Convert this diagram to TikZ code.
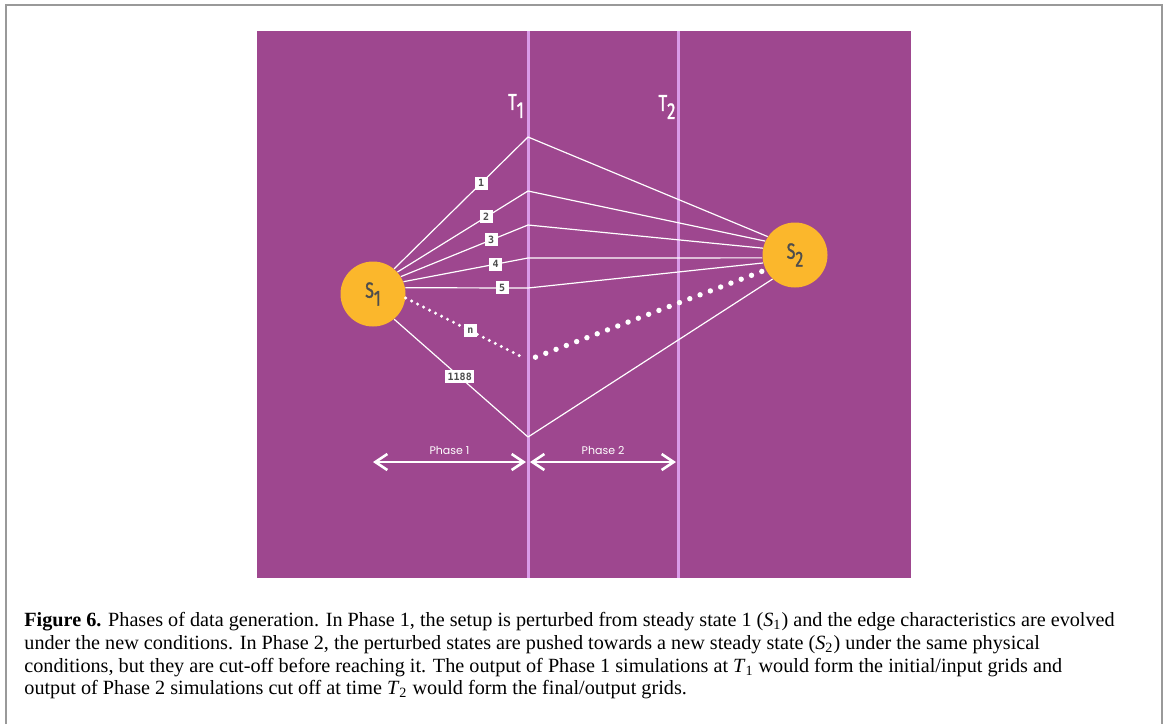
\documentclass[tikz,border=0pt]{standalone}
\usepackage{fontspec}
\setmainfont{Liberation Serif}
\newfontfamily\statefont{Fira Sans}[FakeStretch=0.72, FakeBold=1.2]
\newfontfamily\phasefont{Poppins}
\newfontfamily\boxfont{DejaVu Sans Mono}
\usetikzlibrary{arrows.meta}

\definecolor{bgpurple}{RGB}{158,71,143}
\definecolor{timeline}{RGB}{217,155,232}
\definecolor{stateorange}{RGB}{251,183,44}
\definecolor{statetext}{RGB}{77,77,77}
\definecolor{framegray}{RGB}{153,153,153}

\newcommand{\lowsub}[1]{\raisebox{-4pt}{#1}}

\tikzset{
    state/.style={circle, fill=stateorange, minimum size=32.5pt, inner sep=0pt,
        text=statetext, font=\statefont\fontsize{11}{11}\selectfont},
    tlabel/.style={inner sep=0pt, text=white, font=\statefont\fontsize{11.5}{11.5}\selectfont},
    run/.style={white, line width=0.6pt},
    runlabel/.style={fill=white, inner sep=1.2pt, minimum size=6.5pt,
        text=statetext, font=\boxfont\bfseries\fontsize{5}{5}\selectfont},
    smalldots/.style={white, line width=1.7pt, line cap=round, dash pattern=on 0pt off 3.35pt},
    bigdots/.style={white, line width=2.7pt, line cap=round, dash pattern=on 0pt off 5.5pt},
    phase/.style={white, line width=1.3pt,
        {Straight Barb[length=6pt, width=8pt]}-{Straight Barb[length=6pt, width=8pt]}},
    phaselabel/.style={inner sep=0pt, text=white, font=\phasefont\fontsize{5.5}{5.5}\selectfont},
    caption/.style={inner sep=0pt, align=left, font=\fontsize{10.1}{11.35}\selectfont}
}

\begin{document}
\begin{tikzpicture}[x=0.5pt, y=-0.5pt]
        \useasboundingbox (0, 0) rectangle (1170, 724);

        \coordinate (T1top) at (528, 31);
        \coordinate (T1bot) at (528, 578);
        \coordinate (T2top) at (678, 31);
        \coordinate (T2bot) at (678, 578);

        \coordinate (a1) at (528, 137);
        \coordinate (a2) at (528, 191);
        \coordinate (a3) at (528, 225);
        \coordinate (a4) at (528, 258);
        \coordinate (a5) at (528, 288);
        \coordinate (an) at (528, 360);
        \coordinate (am) at (528, 437);

        \coordinate (p1l) at (373, 462);
        \coordinate (p1r) at (526, 462);
        \coordinate (p2l) at (530, 462);
        \coordinate (p2r) at (676, 462);

        \draw[framegray, line width=1pt] (6, 724) -- (6, 5) -- (1162, 5) -- (1162, 724);
        \fill[bgpurple] (257, 31) rectangle (911, 578);

        \draw[timeline, line width=1.5pt] (T1top) -- (T1bot);
        \draw[timeline, line width=1.5pt] (T2top) -- (T2bot);

        \node[tlabel] (t1) at (516, 106) {T\lowsub{1}};
        \node[tlabel] (t2) at (667, 107) {T\lowsub{2}};

        \node[state] (S1) at (373, 294) {S\lowsub{1}};
        \node[state] (S2) at (795, 255) {S\lowsub{2}};

        % phase 1: from S1 up to T1
        \draw[run] (S1.50) -- (a1) node[runlabel, pos=0.65] (r1) {1};
        \draw[run] (S1.42) -- (a2) node[runlabel, pos=0.68] (r2) {2};
        \draw[run] (S1.32) -- (a3) node[runlabel, pos=0.71] (r3) {3};
        \draw[run] (S1.22) -- (a4) node[runlabel, pos=0.74] (r4) {4};
        \draw[run] (S1.11) -- (a5) node[runlabel, pos=0.79] (r5) {5};
        \draw[smalldots, shorten >=3pt] (S1.-7) -- (an) node[runlabel, pos=0.53] (rn) {n};
        \draw[run] (S1.-50) -- (am) node[runlabel, pos=0.49] (rm) {1188};

        % phase 2: from T1 towards S2
        \draw[run] (a1) -- (S2.146);
        \draw[run] (a2) -- (S2.155);
        \draw[run] (a3) -- (S2.168);
        \draw[run] (a4) -- (S2.185);
        \draw[run] (a5) -- (S2.194);
        \draw[bigdots, shorten <=4pt] (an) -- (S2.207);
        \draw[run] (am) -- (S2.227);

        \draw[phase] (p1l) -- (p1r) node[phaselabel, midway, yshift=6pt] (ph1) {Phase 1};
        \draw[phase] (p2l) -- (p2r) node[phaselabel, midway, yshift=6pt] (ph2) {Phase 2};

        \node[caption, anchor=north west] (cap) at (24, 612) {%
            \textbf{Figure 6.} Phases of data generation. In Phase 1, the setup is perturbed from steady state 1 (\textit{S}\textsubscript{1}) and the edge characteristics are evolved\\
            under the new conditions. In Phase 2, the perturbed states are pushed towards a new steady state (\textit{S}\textsubscript{2}) under the same physical\\
            conditions, but they are cut-off before reaching it. The output of Phase 1 simulations at \textit{T}\textsubscript{1} would form the initial/input grids and\\
            output of Phase 2 simulations cut off at time \textit{T}\textsubscript{2} would form the final/output grids.};
    \end{tikzpicture}
\end{document}
